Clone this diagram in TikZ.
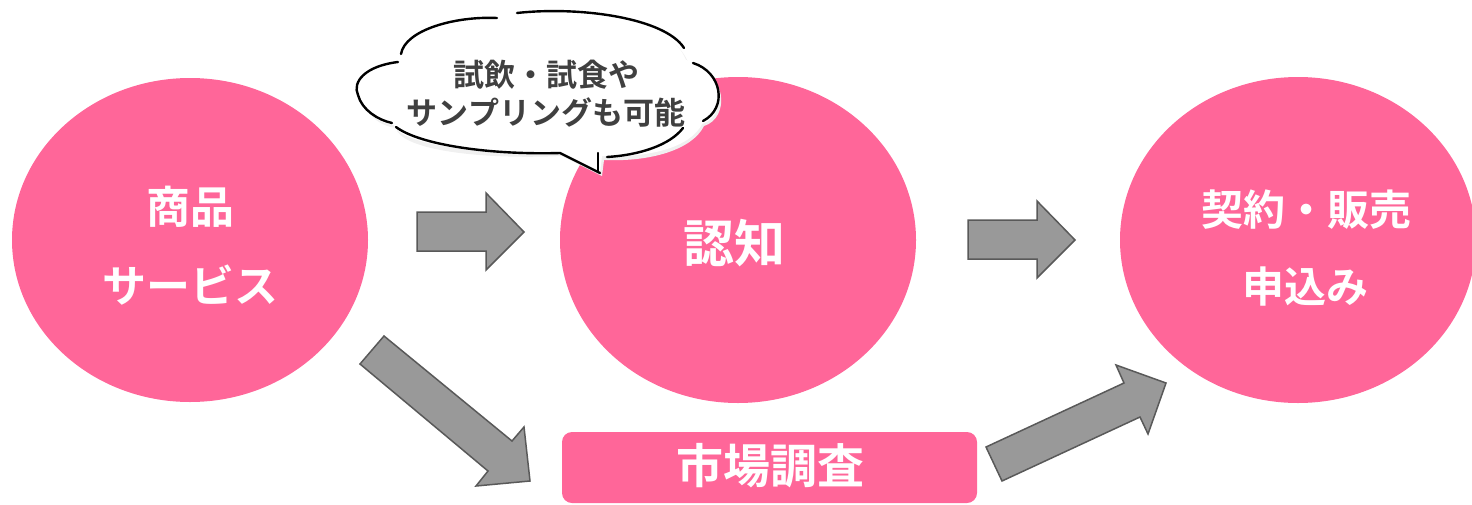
\documentclass[tikz,border=0pt]{standalone}
\usepackage{fontspec}
\setmainfont{Noto Sans CJK JP}[BoldFont={* Bold}]
\definecolor{pinkc}{HTML}{FF6699}
\definecolor{arrfill}{HTML}{999999}
\definecolor{arrline}{HTML}{595959}
\definecolor{bubtext}{HTML}{404040}
\tikzset{
  circ/.style={fill=pinkc, draw=none},
  wtext/.style={text=white, font=\bfseries\fontsize{44}{50}\selectfont, inner sep=0pt},
  btext/.style={text=bubtext, font=\bfseries\fontsize{31}{36}\selectfont, inner sep=0pt},
  blockarrow/.style={fill=arrfill, draw=arrline, line width=1.5pt, line join=miter},
  bubline/.style={draw=black, line width=2.4pt, line cap=round},
}
\begin{document}
\begin{tikzpicture}[x=1pt,y=-1pt]
\useasboundingbox (0,0) rectangle (1472,504);
% ellipses
\fill[circ] (190,240) ellipse [x radius=178, y radius=162];
\fill[circ] (738,240) ellipse [x radius=178, y radius=163];
\fill[circ] (1298,240) ellipse [x radius=178, y radius=163];
% texts
\node[wtext] (t1) at (190,207) {商品};
\node[wtext] (t2) at (190,285) {サービス};
\node[wtext, font=\bfseries\fontsize{51}{56}\selectfont] (t3) at (734,243) {認知};
\node[wtext, font=\bfseries\fontsize{42}{48}\selectfont] (t4) at (1306,210) {契約・販売};
\node[wtext, font=\bfseries\fontsize{42}{48}\selectfont] (t5) at (1305,287) {申込み};
% market research box
\fill[pinkc, rounded corners=10pt] (562,432) rectangle (977,503);
\node[wtext, font=\bfseries\fontsize{47}{52}\selectfont] (t6) at (770,466) {市場調査};
% arrows
\draw[blockarrow] (417,212) -- (486,212) -- (486,193) -- (524,232) -- (486,270) -- (486,251) -- (417,251) -- cycle;
\draw[blockarrow] (968,220) -- (1037,220) -- (1037,201) -- (1075,240) -- (1037,278) -- (1037,259) -- (968,259) -- cycle;
\draw[blockarrow] (384,336) -- (512,441) -- (524,427) -- (530,481) -- (476,486) -- (488,471) -- (360,364) -- cycle;
\draw[blockarrow] (986,447) -- (1124,383) -- (1116,365) -- (1166,383) -- (1148,434) -- (1140,417) -- (1002,481) -- cycle;
% speech bubble: soft shadow and white fill
\fill[black!6] (602,176) -- (562,156)
  .. controls (470,160) and (400,148) .. (396,128)
  .. controls (355,122) and (350,72) .. (400,63)
  .. controls (400,30) and (460,14) .. (510,18)
  .. controls (580,6) and (670,18) .. (688,62)
  .. controls (728,72) and (730,118) .. (704,126)
  .. controls (692,150) and (650,162) .. (604,160) -- cycle;
\fill[white] (600,173) -- (560,153)
  .. controls (468,155) and (398,142) .. (394,125)
  .. controls (352,119) and (348,68) .. (398,61)
  .. controls (398,28) and (458,12) .. (508,16)
  .. controls (578,4) and (668,16) .. (686,60)
  .. controls (726,70) and (728,116) .. (702,124)
  .. controls (690,148) and (648,158) .. (602,156) -- cycle;
% bubble outline in separate strokes
\draw[bubline] (401,54) .. controls (405,30) and (455,16) .. (497,18);
\draw[bubline] (517,13) .. controls (580,6) and (665,18) .. (684,48);
\draw[bubline] (693,63) .. controls (722,72) and (728,108) .. (703,121);
\draw[bubline] (683,128) .. controls (670,145) and (640,155) .. (607,157);
\draw[bubline] (398,62) .. controls (365,66) and (352,82) .. (358,95) .. controls (362,110) and (378,120) .. (392,123);
\draw[bubline] (396,127) .. controls (420,145) and (490,155) .. (560,153) -- (600,173);
\draw[bubline] (598,153) -- (598,172);
\node[btext] (b1) at (546,75) {試飲・試食や};
\node[btext] (b2) at (546,112) {サンプリングも可能};
\end{tikzpicture}
\end{document}
